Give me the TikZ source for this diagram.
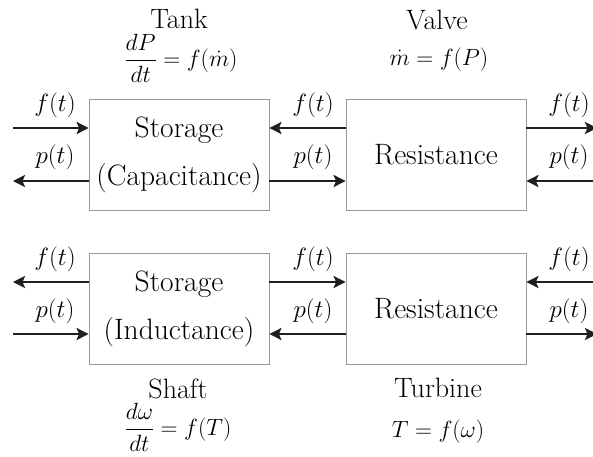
\RequirePackage{fix-cm}
\documentclass[tikz,border=0pt]{standalone}
\usetikzlibrary{arrows.meta}
\begin{document}
\begin{tikzpicture}[x=1pt,y=-1pt,
  blk/.style={draw=black!40,line width=0.8pt,minimum width=180pt,minimum height=111pt,
    align=center,inner sep=0pt,font=\fontsize{29.5}{48}\selectfont},
  lbl/.style={inner sep=0pt,font=\fontsize{25}{28}\selectfont},
  ttl/.style={inner sep=0pt,font=\fontsize{28}{32}\selectfont},
  eqn/.style={inner sep=0pt,font=\fontsize{23.5}{26}\selectfont},
  arr/.style={line width=2.8pt,draw=black!88,-{Stealth[inset=2.5pt,length=12pt,width=12pt]}}]
\useasboundingbox (0,0) rectangle (593,456);
% boxes
\node[blk] (tl) at (179,154.5) {Storage\\(Capacitance)};
\node[blk] (tr) at (436,154.5) {Resistance};
\node[blk] (bl) at (179,308.5) {Storage\\(Inductance)};
\node[blk] (br) at (436,308.5) {Resistance};
% free ends
\coordinate (l1) at (13,128);
\coordinate (l2) at (13,181);
\coordinate (l3) at (13,282);
\coordinate (l4) at (13,334);
\coordinate (r1) at (597,128);
\coordinate (r2) at (597,181);
\coordinate (r3) at (597,282);
\coordinate (r4) at (597,334);
% top row arrows
\draw[arr] (l1) -- (l1 -| tl.west);
\draw[arr] (l2 -| tl.west) -- (l2);
\draw[arr] (l1 -| tr.west) -- (l1 -| tl.east);
\draw[arr] (l2 -| tl.east) -- (l2 -| tr.west);
\draw[arr] (r1 -| tr.east) -- (r1);
\draw[arr] (r2) -- (r2 -| tr.east);
% bottom row arrows
\draw[arr] (l3 -| bl.west) -- (l3);
\draw[arr] (l4) -- (l4 -| bl.west);
\draw[arr] (l3 -| bl.east) -- (l3 -| br.west);
\draw[arr] (l4 -| br.west) -- (l4 -| bl.east);
\draw[arr] (r3) -- (r3 -| br.east);
\draw[arr] (r4 -| br.east) -- (r4);
% arrow labels
\node[lbl] (f1) at (55,105) {$f(t)$};
\node[lbl] (p1) at (55,157) {$p(t)$};
\node[lbl] (f2) at (313,105) {$f(t)$};
\node[lbl] (p2) at (313,157) {$p(t)$};
\node[lbl] (f3) at (569,105) {$f(t)$};
\node[lbl] (p3) at (569,157) {$p(t)$};
\node[lbl] (f4) at (55,259) {$f(t)$};
\node[lbl] (p4) at (55,311) {$p(t)$};
\node[lbl] (f5) at (313,259) {$f(t)$};
\node[lbl] (p5) at (313,311) {$p(t)$};
\node[lbl] (f6) at (569,259) {$f(t)$};
\node[lbl] (p6) at (569,311) {$p(t)$};
% titles and equations
\node[ttl] (tank) at (179,19) {Tank};
\node[eqn] (tankeq) at (181,58) {$\displaystyle\frac{dP}{dt}=f(\dot m)$};
\node[ttl] (valve) at (437,20) {Valve};
\node[eqn] (valveeq) at (439,60) {$\dot m=f(P)$};
\node[ttl] (shaft) at (178,389) {Shaft};
\node[eqn] (shafteq) at (178,427) {$\displaystyle\frac{d\omega}{dt}=f(T)$};
\node[ttl] (turb) at (438,388) {Turbine};
\node[eqn] (turbeq) at (438,432) {$T=f(\omega)$};
\end{tikzpicture}
\end{document}
